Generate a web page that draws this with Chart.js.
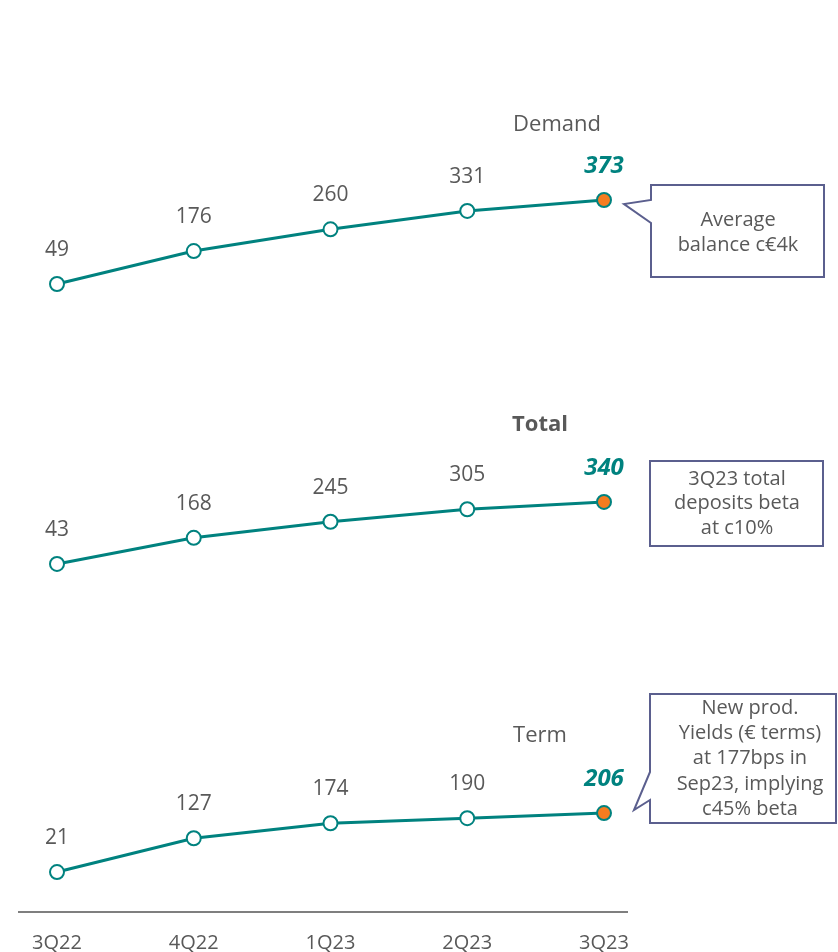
<!DOCTYPE html>
<html>
<head>
    <title>Deposit cost lines</title>
    <script src="https://cdn.jsdelivr.net/npm/chart.js"></script>
    <style>
        body { margin: 0; background: #fff; }
        #chart { display: block; }
    </style>
</head>
<body>
    <canvas id="chart" width="838" height="952"></canvas>
    <script>
        // data
        var quarters = ['3Q22', '4Q22', '1Q23', '2Q23', '3Q23'];
        var demand = [49, 176, 260, 331, 373];
        var total = [43, 168, 245, 305, 340];
        var term = [21, 127, 174, 190, 206];
        var seriesNames = ['Demand', 'Total', 'Term'];

        var teal = '#00827f';
        var orange = '#f57c20';
        var grey = '#595959';
        var boxLine = '#5b5f8e';
        var font = '"Open Sans", "Noto Sans", sans-serif';

        function pointColors(arr) {
            return arr.map(function (v, i) { return i === arr.length - 1 ? orange : '#ffffff'; });
        }

        function makeSet(label, arr, axis) {
            return {
                label: label,
                data: arr,
                yAxisID: axis,
                borderColor: teal,
                borderWidth: 3,
                tension: 0,
                pointRadius: 7,
                pointHoverRadius: 7,
                pointBorderWidth: 2,
                pointBorderColor: teal,
                pointBackgroundColor: pointColors(arr)
            };
        }

        // value labels above each point, last one bold italic teal
        var valueLabels = {
            id: 'valueLabels',
            afterDatasetsDraw: function (chart) {
                var ctx = chart.ctx;
                ctx.save();
                ctx.textAlign = 'center';
                ctx.textBaseline = 'middle';
                chart.data.datasets.forEach(function (ds, di) {
                    var meta = chart.getDatasetMeta(di);
                    meta.data.forEach(function (pt, i) {
                        var last = i === ds.data.length - 1;
                        ctx.font = last ? 'italic bold 24px ' + font : '21px ' + font;
                        ctx.fillStyle = last ? teal : grey;
                        ctx.fillText(ds.data[i], pt.x, pt.y - 34);
                    });
                });
                ctx.restore();
            }
        };

        function callout(ctx, pts) {
            ctx.beginPath();
            ctx.moveTo(pts[0][0], pts[0][1]);
            for (var i = 1; i < pts.length; i++) ctx.lineTo(pts[i][0], pts[i][1]);
            ctx.closePath();
            ctx.fillStyle = '#ffffff';
            ctx.fill();
            ctx.strokeStyle = boxLine;
            ctx.lineWidth = 2;
            ctx.stroke();
        }

        function lines(ctx, arr, x, y0, step) {
            arr.forEach(function (t, i) { ctx.fillText(t, x, y0 + i * step); });
        }

        // titles, axis line and the side notes
        var decorations = {
            id: 'decorations',
            afterDraw: function (chart) {
                var ctx = chart.ctx;
                ctx.save();
                var bottom = chart.chartArea.bottom;
                ctx.strokeStyle = '#7f7f7f';
                ctx.lineWidth = 2;
                ctx.beginPath();
                ctx.moveTo(18, bottom + 2);
                ctx.lineTo(628, bottom + 2);
                ctx.stroke();

                ctx.textAlign = 'center';
                ctx.textBaseline = 'middle';
                ctx.fillStyle = grey;
                ctx.font = '22px ' + font;
                ctx.fillText(seriesNames[0], 557, 125);
                ctx.font = 'bold 22px ' + font;
                ctx.fillText(seriesNames[1], 540, 425);
                ctx.font = '22px ' + font;
                ctx.fillText(seriesNames[2], 540, 736);

                callout(ctx, [[651, 185], [824, 185], [824, 277], [651, 277], [651, 223], [624, 204], [651, 200]]);
                callout(ctx, [[650, 461], [823, 461], [823, 546], [650, 546]]);
                callout(ctx, [[650, 694], [836, 694], [836, 823], [650, 823], [650, 800], [634, 810], [650, 772]]);

                ctx.fillStyle = grey;
                ctx.font = '20px ' + font;
                lines(ctx, ['Average', 'balance c\u20ac4k'], 738, 220, 25);
                lines(ctx, ['3Q23 total', 'deposits beta', 'at c10%'], 737, 479, 24.5);
                lines(ctx, ['New prod.', 'Yields (\u20ac terms)', 'at 177bps in', 'Sep23, implying', 'c45% beta'], 750, 708, 25.3);
                ctx.restore();
            }
        };

        var ctx = document.getElementById('chart').getContext('2d');
        var chart = new Chart(ctx, {
            type: 'line',
            data: {
                labels: quarters,
                datasets: [
                    makeSet(seriesNames[0], demand, 'yDemand'),
                    makeSet(seriesNames[1], total, 'yTotal'),
                    makeSet(seriesNames[2], term, 'yTerm')
                ]
            },
            options: {
                responsive: false,
                animation: false,
                layout: { padding: { left: 57, right: 234, top: 10, bottom: 0 } },
                plugins: { legend: { display: false }, tooltip: { enabled: false } },
                scales: {
                    x: {
                        offset: false,
                        grid: { display: false },
                        border: { display: false },
                        ticks: { color: grey, font: { size: 20, family: font }, padding: 13, maxRotation: 0 },
                        afterFit: function (axis) { axis.height = 42; }
                    },
                    yDemand: { display: false, min: -2366, max: 1106 },
                    yTotal: { display: false, min: -1615, max: 2697 },
                    yTerm: { display: false, min: -98, max: 2724 }
                }
            },
            plugins: [valueLabels, decorations]
        });
    </script>
</body>
</html>
